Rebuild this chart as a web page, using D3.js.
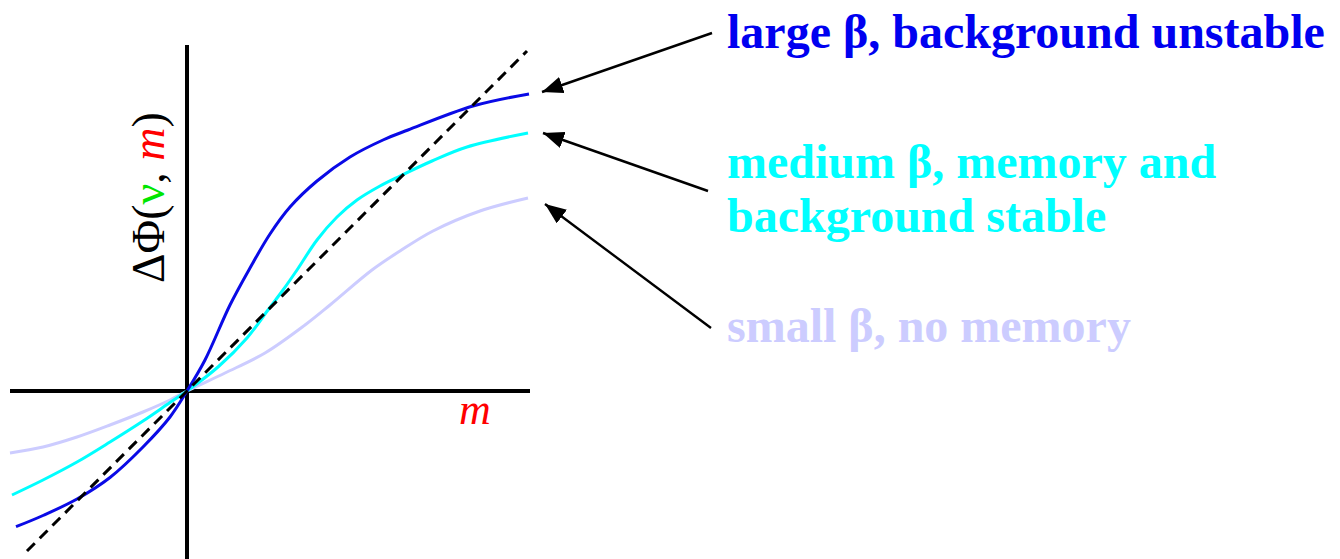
<!DOCTYPE html>
<html>
<head>
<meta charset="utf-8">
<script src="https://cdn.jsdelivr.net/npm/d3@7"></script>
<style>
  html, body { margin: 0; padding: 0; background: #fff; }
  svg { display: block; }
</style>
</head>
<body>
<svg id="chart" width="1340" height="559"></svg>
<script>
// ΔΦ(ν, m) response curves for three β regimes, plus the identity line.
const mLarge  = [-1.71, -1.44, -1.10, -0.77, -0.44, -0.17, 0, 0.18, 0.43, 0.63, 0.83, 1.03, 1.30, 1.63, 1.96, 2.21, 2.86, 3.42];
const vLarge  = [-1.357, -1.245, -1.08, -0.865, -0.56, -0.26, 0, 0.31, 0.86, 1.23, 1.57, 1.84, 2.10, 2.34, 2.51, 2.61, 2.85, 2.97];

const mMedium = [-1.75, -1.44, -1.10, -0.77, -0.44, -0.17, 0, 0.31, 0.60, 0.81, 0.96, 1.10, 1.30, 1.50, 1.70, 1.93, 2.13, 2.45, 2.80, 3.41];
const vMedium = [-1.04, -0.89, -0.71, -0.51, -0.30, -0.115, 0, 0.24, 0.53, 0.81, 1.01, 1.21, 1.51, 1.74, 1.91, 2.05, 2.15, 2.30, 2.44, 2.58];

const mSmall  = [-1.77, -1.44, -1.10, -0.77, -0.44, -0.17, 0, 0.38, 0.78, 1.18, 1.43, 1.85, 2.13, 2.46, 2.93, 3.41];
const vSmall  = [-0.62, -0.56, -0.46, -0.34, -0.21, -0.09, 0, 0.18, 0.38, 0.66, 0.86, 1.21, 1.40, 1.60, 1.80, 1.93];

// identity reference line ΔΦ = m
const mIdentity = [-1.60, 3.40];

const seriesNames  = ["large", "medium", "small"];
const seriesColors = ["#0a0ae6", "#00ffff", "#ccccff"];
const labelColors  = ["#0000f0", "#00ffff", "#ccccff"];
const labelLines   = [
  ["large β, background unstable"],
  ["medium β, memory and", "background stable"],
  ["small β, no memory"]
];

// axis extents in data units
const xDomain = [-1.77, 3.43];
const yDomain = [-1.68, 3.46];

const svg = d3.select("#chart");
const x = d3.scaleLinear().domain(xDomain).range([10, 530]);
const y = d3.scaleLinear().domain(yDomain).range([559, 45]);

const line = d3.line().x(d => x(d[0])).y(d => y(d[1])).curve(d3.curveCatmullRom.alpha(0.5));

// axes crossing at the origin
svg.append("line")
  .attr("x1", x(xDomain[0])).attr("x2", x(xDomain[1]))
  .attr("y1", y(0)).attr("y2", y(0))
  .attr("stroke", "#000").attr("stroke-width", 4);
svg.append("line")
  .attr("x1", x(0)).attr("x2", x(0))
  .attr("y1", y(yDomain[0])).attr("y2", y(yDomain[1]))
  .attr("stroke", "#000").attr("stroke-width", 4);

// curves
const curveData = [
  d3.zip(mLarge, vLarge),
  d3.zip(mMedium, vMedium),
  d3.zip(mSmall, vSmall)
];
// light curve first so the darker curves sit above it
[2, 1, 0].forEach(i => {
  svg.append("path")
    .attr("class", "curve-" + seriesNames[i])
    .attr("d", line(curveData[i]))
    .attr("fill", "none")
    .attr("stroke", seriesColors[i])
    .attr("stroke-width", 3);
});

// dashed identity line
svg.append("path")
  .attr("d", d3.line().x(d => x(d)).y(d => y(d))(mIdentity))
  .attr("fill", "none")
  .attr("stroke", "#000")
  .attr("stroke-width", 3)
  .attr("stroke-dasharray", "11,7");

// axis titles
const yTitle = svg.append("text")
  .attr("transform", "translate(164,283) rotate(-90)")
  .attr("font-family", "'Liberation Serif', 'Times New Roman', serif")
  .attr("font-size", 46)
  .attr("fill", "#000");
yTitle.append("tspan").text("ΔΦ(");
yTitle.append("tspan").attr("fill", "#00e600").text("ν");
yTitle.append("tspan").text(", ");
yTitle.append("tspan").attr("fill", "#ff0000").attr("font-style", "italic").text("m");
yTitle.append("tspan").text(")");

svg.append("text")
  .attr("x", 459).attr("y", 424)
  .attr("font-family", "'Liberation Serif', 'Times New Roman', serif")
  .attr("font-size", 44)
  .attr("font-style", "italic")
  .attr("fill", "#ff0000")
  .text("m");

// labels with arrows pointing at each curve's end
const labelPos = [[727, 48], [727, 178], [727, 342]];
const arrowTail = [[712, 33], [708, 191], [711, 328]];
const arrowTip  = [[542, 92], [543, 133], [545, 204]];

svg.append("defs").append("marker")
  .attr("id", "head")
  .attr("viewBox", "0 0 21 17")
  .attr("refX", 21).attr("refY", 8.5)
  .attr("markerWidth", 21).attr("markerHeight", 17)
  .attr("markerUnits", "userSpaceOnUse")
  .attr("orient", "auto")
  .append("path")
  .attr("d", "M0,0 L21,8.5 L0,17 Z")
  .attr("fill", "#000");

labelLines.forEach((lines, i) => {
  const t = svg.append("text")
    .attr("x", labelPos[i][0]).attr("y", labelPos[i][1])
    .attr("font-family", "'Liberation Serif', 'Times New Roman', serif")
    .attr("font-weight", "bold")
    .attr("font-size", 48)
    .attr("fill", labelColors[i]);
  lines.forEach((s, k) => {
    t.append("tspan")
      .attr("x", labelPos[i][0])
      .attr("dy", k === 0 ? 0 : 54)
      .text(s);
  });
  svg.append("line")
    .attr("x1", arrowTail[i][0]).attr("y1", arrowTail[i][1])
    .attr("x2", arrowTip[i][0]).attr("y2", arrowTip[i][1])
    .attr("stroke", "#000").attr("stroke-width", 2.4)
    .attr("marker-end", "url(#head)");
});
</script>
</body>
</html>
